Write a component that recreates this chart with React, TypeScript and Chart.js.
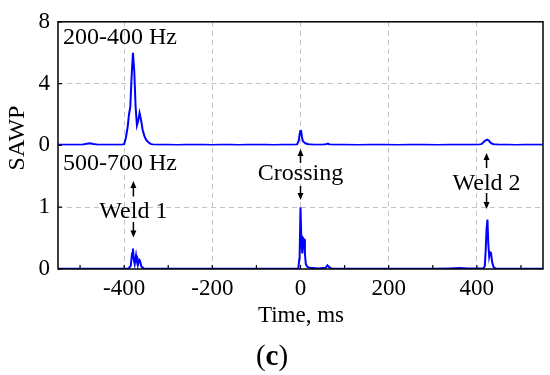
import React, { useEffect, useRef } from "react";
import { Chart, registerables } from "chart.js";

Chart.register(...registerables);

// ---- data ----
const TIME_LOW = [
  -550, -530, -510, -495, -485, -478, -470, -460, -440, -420, -405, -400, -396, -392, -389, -386, -383, -380,
  -377, -374, -371, -368, -365, -362, -358, -354, -350, -345, -340, -334, -320, -300, -280, -260, -240, -220,
  -200, -180, -160, -140, -120, -100, -80, -60, -40, -20, -8, -4, -1, 1, 3, 5, 8, 12, 18, 30, 50, 58, 62, 66,
  75, 100, 130, 160, 190, 220, 250, 280, 310, 340, 370, 395, 405, 410, 415, 420, 424, 428, 432, 438, 450,
  470, 490, 510, 530, 550,
];
const SAWP_LOW = [
  0.04, 0.05, 0.04, 0.05, 0.1, 0.14, 0.09, 0.05, 0.04, 0.04, 0.04, 0.08, 0.5, 1.2, 2.0, 2.5, 4.5, 6.0,
  4.8, 2.5, 1.3, 1.6, 2.1, 1.7, 1.0, 0.6, 0.35, 0.2, 0.1, 0.05, 0.04, 0.04, 0.03, 0.04, 0.04, 0.04,
  0.03, 0.04, 0.04, 0.03, 0.04, 0.04, 0.04, 0.03, 0.04, 0.04, 0.05, 0.3, 0.9, 1.0, 0.6, 0.3, 0.2, 0.12, 0.07,
  0.04, 0.04, 0.07, 0.12, 0.06, 0.04, 0.04, 0.03, 0.04, 0.04, 0.03, 0.04, 0.04, 0.03, 0.04, 0.04, 0.04, 0.05,
  0.08, 0.2, 0.33, 0.37, 0.28, 0.15, 0.08, 0.05, 0.04, 0.03, 0.05, 0.04, 0.04,
];

const TIME_HIGH = [
  -550, -500, -450, -400, -390, -385, -382, -380, -378, -376, -373, -371, -369, -366, -364, -361, -356, -340,
  -300, -250, -200, -150, -100, -50, -5, -2, 0, 2, 4, 6, 8, 10, 12, 15, 20, 40, 57, 61, 65, 70, 100, 150,
  200, 250, 300, 340, 360, 380, 400, 415, 418, 420, 422, 424, 426, 428, 430, 432, 435, 438, 442, 470, 500,
  550,
];
const SAWP_HIGH = [
  0.005, 0.005, 0.005, 0.005, 0.01, 0.05, 0.25, 0.33, 0.15, 0.08, 0.22, 0.12, 0.06, 0.15, 0.13, 0.04, 0.01, 0.005,
  0.005, 0.005, 0.005, 0.005, 0.005, 0.005, 0.01, 0.2, 1.0, 0.45, 0.25, 0.5, 0.48, 0.25, 0.08, 0.04, 0.02, 0.01,
  0.02, 0.06, 0.03, 0.01, 0.005, 0.005, 0.005, 0.005, 0.005, 0.01, 0.015, 0.01, 0.01, 0.01, 0.05, 0.3, 0.65,
  0.8, 0.4, 0.2, 0.27, 0.26, 0.1, 0.03, 0.01, 0.005, 0.005, 0.005,
];

const X_TICKS = [-400, -200, 0, 200, 400];
const X_MINOR = [-500, -300, -100, 100, 300, 500];
const Y_TOP_TICKS = [0, 4, 8];
const Y_BOT_TICKS = [0, 1];

const BAND_TOP = "200-400 Hz";
const BAND_BOT = "500-700 Hz";
const Y_TITLE = "SAWP";
const X_TITLE = "Time, ms";
const EVENTS = ["Weld 1", "Crossing", "Weld 2"];
const EVENT_TIMES = [-379, 0, 422];

const FONT = "'Liberation Serif', 'Times New Roman', serif";
const GRID = "#c4c4c4";

const annotations = {
  id: "annotations",
  afterDraw(chart: any) {
    const { ctx, chartArea: a, scales } = chart;
    const x = scales.x;
    ctx.save();
    // frame
    ctx.strokeStyle = "#000";
    ctx.lineWidth = 1.5;
    ctx.strokeRect(a.left, a.top, a.right - a.left, a.bottom - a.top);
    // inward ticks on bottom
    ctx.lineWidth = 1.2;
    ctx.beginPath();
    [...X_TICKS, ...X_MINOR].forEach((v) => {
      const px = x.getPixelForValue(v);
      ctx.moveTo(px, a.bottom);
      ctx.lineTo(px, a.bottom - 4);
    });
    // inward ticks on left
    const yT = scales.yTop, yB = scales.yBot;
    Y_TOP_TICKS.forEach((v) => {
      const py = yT.getPixelForValue(v);
      ctx.moveTo(a.left, py);
      ctx.lineTo(a.left + 4, py);
    });
    Y_BOT_TICKS.forEach((v) => {
      const py = yB.getPixelForValue(v);
      ctx.moveTo(a.left, py);
      ctx.lineTo(a.left + 4, py);
    });
    ctx.stroke();

    ctx.fillStyle = "#000";
    ctx.font = `24px ${FONT}`;
    ctx.textBaseline = "alphabetic";
    ctx.textAlign = "left";
    ctx.fillText(BAND_TOP, a.left + 5, 44);
    ctx.fillText(BAND_BOT, a.left + 5, 169.5);

    // events: text baseline, up arrow (tail, tip), down arrow (tail, tip)
    const layout = [
      { base: 217.5, up: [196.5, 181], down: [222, 237.5] },
      { base: 180, up: [163, 149], down: [186, 200] },
      { base: 189.5, up: [168, 153], down: [193, 209] },
    ];
    ctx.textAlign = "center";
    EVENTS.forEach((label, i) => {
      const px = x.getPixelForValue(EVENT_TIMES[i]);
      const L = layout[i];
      ctx.fillText(label, px, L.base);
      [L.up, L.down].forEach(([t, h]) => {
        const dir = h < t ? -1 : 1;
        ctx.lineWidth = 1.5;
        ctx.beginPath();
        ctx.moveTo(px, t);
        ctx.lineTo(px, h - dir * 5);
        ctx.stroke();
        ctx.beginPath();
        ctx.moveTo(px, h);
        ctx.lineTo(px - 3, h - dir * 7);
        ctx.lineTo(px + 3, h - dir * 7);
        ctx.closePath();
        ctx.fill();
      });
    });

    // axis titles
    ctx.font = `23px ${FONT}`;
    ctx.textAlign = "center";
    ctx.fillText(X_TITLE, 301, 321.5);
    ctx.save();
    ctx.font = `24px ${FONT}`;
    ctx.translate(24, 138);
    ctx.rotate(-Math.PI / 2);
    ctx.fillText(Y_TITLE, 0, 0);
    ctx.restore();

    // panel label (c)
    const cs = 29;
    ctx.textAlign = "left";
    ctx.font = `${cs}px ${FONT}`;
    const w1 = ctx.measureText("(").width;
    ctx.font = `bold ${cs}px ${FONT}`;
    const wc = ctx.measureText("c").width;
    ctx.font = `${cs}px ${FONT}`;
    const start = 272 - (w1 * 2 + wc) / 2;
    const base = 365;
    ctx.fillText("(", start, base);
    ctx.font = `bold ${cs}px ${FONT}`;
    ctx.fillText("c", start + w1, base);
    ctx.font = `${cs}px ${FONT}`;
    ctx.fillText(")", start + w1 + wc, base);
    ctx.restore();
  },
};

export default function App() {
  const ref = useRef<HTMLCanvasElement | null>(null);
  useEffect(() => {
    if (!ref.current) return;
    const tickFont = { family: FONT, size: 23 };
    const chart = new Chart(ref.current, {
      type: "line",
      data: {
        datasets: [
          {
            label: BAND_TOP,
            data: TIME_LOW.map((t, i) => ({ x: t, y: SAWP_LOW[i] })),
            yAxisID: "yTop",
            borderColor: "#0000ff",
            borderWidth: 2,
            pointRadius: 0,
            tension: 0,
          },
          {
            label: BAND_BOT,
            data: TIME_HIGH.map((t, i) => ({ x: t, y: SAWP_HIGH[i] })),
            yAxisID: "yBot",
            borderColor: "#0000ff",
            borderWidth: 2,
            pointRadius: 0,
            tension: 0,
          },
        ],
      },
      options: {
        responsive: false,
        animation: false,
        layout: { padding: { top: 18, right: 7, left: 0, bottom: 0 } },
        plugins: { legend: { display: false }, tooltip: { enabled: false } },
        scales: {
          x: {
            type: "linear",
            position: "bottom",
            min: -550,
            max: 550,
            afterBuildTicks: (s: any) => {
              s.ticks = X_TICKS.map((v) => ({ value: v }));
            },
            afterFit: (s: any) => {
              s.height = 106;
            },
            grid: { color: GRID, lineWidth: 1, drawTicks: false },
            border: { display: false, dash: [5, 4] },
            ticks: { font: tickFont, color: "#000", padding: 6, maxRotation: 0 },
          },
          yBot: {
            type: "linear",
            position: "left",
            stack: "panels",
            stackWeight: 1,
            min: 0,
            max: 2,
            afterBuildTicks: (s: any) => {
              s.ticks = Y_BOT_TICKS.map((v) => ({ value: v }));
            },
            afterFit: (s: any) => {
              s.width = 58;
            },
            grid: {
              color: (c: any) => (c.tick && c.tick.value === 1 ? GRID : "rgba(0,0,0,0)"),
              drawTicks: false,
            },
            border: { display: false, dash: [5, 4] },
            ticks: { font: tickFont, color: "#000", padding: 8 },
          },
          yTop: {
            type: "linear",
            position: "left",
            stack: "panels",
            stackWeight: 1,
            min: 0,
            max: 8,
            afterBuildTicks: (s: any) => {
              s.ticks = Y_TOP_TICKS.map((v) => ({ value: v }));
            },
            afterFit: (s: any) => {
              s.width = 58;
            },
            grid: {
              color: (c: any) => (c.tick && c.tick.value === 4 ? GRID : "rgba(0,0,0,0)"),
              drawTicks: false,
            },
            border: { display: false, dash: [5, 4] },
            ticks: { font: tickFont, color: "#000", padding: 8 },
          },
        },
      },
      plugins: [annotations],
    });
    return () => chart.destroy();
  }, []);
  return (
    <div style={{ position: "absolute", left: 0, top: 0, width: 550, height: 375, background: "#fff" }}>
      <canvas ref={ref} width={550} height={375} style={{ display: "block" }} />
    </div>
  );
}
